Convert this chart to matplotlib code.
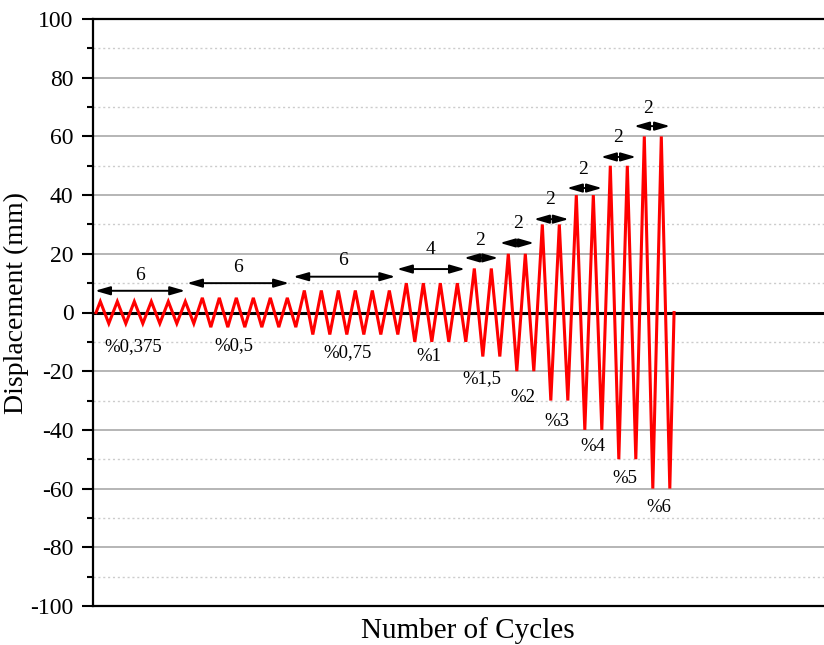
import matplotlib
matplotlib.use("Agg")
import matplotlib.pyplot as plt
from matplotlib.ticker import MultipleLocator, NullLocator

# ---- data ----
levels = ["%0,375", "%0,5", "%0,75", "%1", "%1,5", "%2", "%3", "%4", "%5", "%6"]
amplitudes = [3.75, 5, 7.5, 10, 15, 20, 30, 40, 50, 60]
cycles = [6, 6, 6, 4, 2, 2, 2, 2, 2, 2]

# annotation placement (cycle units / mm)
arrow_x0 = [-0.06, 5.35, 11.6, 17.7, 21.65, 23.76, 25.76, 27.7, 29.7, 31.65]
arrow_x1 = [5.24, 11.35, 17.6, 21.7, 23.65, 25.76, 27.8, 29.76, 31.76, 33.76]
arrow_y = [7.4, 10.0, 12.2, 14.8, 18.6, 23.7, 31.8, 42.4, 53.0, 63.5]
count_x = [2.6, 8.35, 14.5, 19.7, 22.6, 24.8, 26.7, 28.65, 30.7, 32.5]
count_y = [12.6, 15.2, 17.6, 21.3, 24.6, 30.2, 38.6, 48.8, 59.6, 69.6]
label_x = [2.2, 8.1, 14.8, 19.6, 22.7, 25.1, 27.1, 29.2, 31.1, 33.1]
label_y = [-11.6, -11.4, -13.8, -15.0, -22.6, -29.0, -37.3, -45.8, -56.4, -66.6]

# ---- build waveform ----
t = [0.0]
d = [0.0]
k = 0
for amp, n in zip(amplitudes, cycles):
    for _ in range(n):
        t += [k + 0.25, k + 0.75]
        d += [amp, -amp]
        k += 1
t.append(float(k))
d.append(0.0)

plt.rcParams["font.family"] = ["Liberation Serif", "DejaVu Serif"]
plt.rcParams["axes.unicode_minus"] = False

fig = plt.figure(figsize=(8.24, 6.45), dpi=100)
ax = fig.add_axes([93 / 824, 39 / 645, 731 / 824, 587 / 645])
ax.set_xlim(-0.18, 42.82)
ax.set_ylim(-100, 100)

ax.yaxis.set_major_locator(MultipleLocator(20))
ax.yaxis.set_minor_locator(MultipleLocator(10))
ax.xaxis.set_major_locator(NullLocator())
ax.xaxis.set_minor_locator(NullLocator())

ax.grid(which="major", axis="y", color="#a9a9a9", lw=1.2, ls="-")
ax.grid(which="minor", axis="y", color="#cccccc", lw=1.0, ls=(0, (1.5, 2)))
ax.set_axisbelow(True)

ax.tick_params(axis="y", which="major", direction="out", length=8, width=1.5,
               labelsize=17, pad=6)
ax.tick_params(axis="y", which="minor", direction="out", length=4.5, width=1.5)

for side in ["left", "bottom", "top"]:
    ax.spines[side].set_linewidth(1.6)
ax.spines["right"].set_visible(False)

ax.axhline(0, color="black", lw=2.2, zorder=2)
ax.plot(t, d, color="#ff0000", lw=2.2, zorder=3, solid_joinstyle="miter")

for i in range(len(levels)):
    ax.annotate("", xy=(arrow_x1[i], arrow_y[i]), xytext=(arrow_x0[i], arrow_y[i]),
                arrowprops=dict(arrowstyle="<|-|>,head_length=0.9,head_width=0.26",
                                color="black", lw=1.4, shrinkA=0, shrinkB=0),
                zorder=4)
    ax.text(count_x[i], count_y[i], str(cycles[i]), ha="center", va="center",
            fontsize=14)
    ax.text(label_x[i], label_y[i], levels[i], ha="center", va="center",
            fontsize=13.5)

ax.set_ylabel("Displacement (mm)", fontsize=20)
ax.set_xlabel("Number of Cycles", fontsize=21)
ax.yaxis.set_label_coords(-0.088, 0.516)
ax.xaxis.set_label_coords(0.513, -0.018)

fig.savefig("out.png", dpi=100)
